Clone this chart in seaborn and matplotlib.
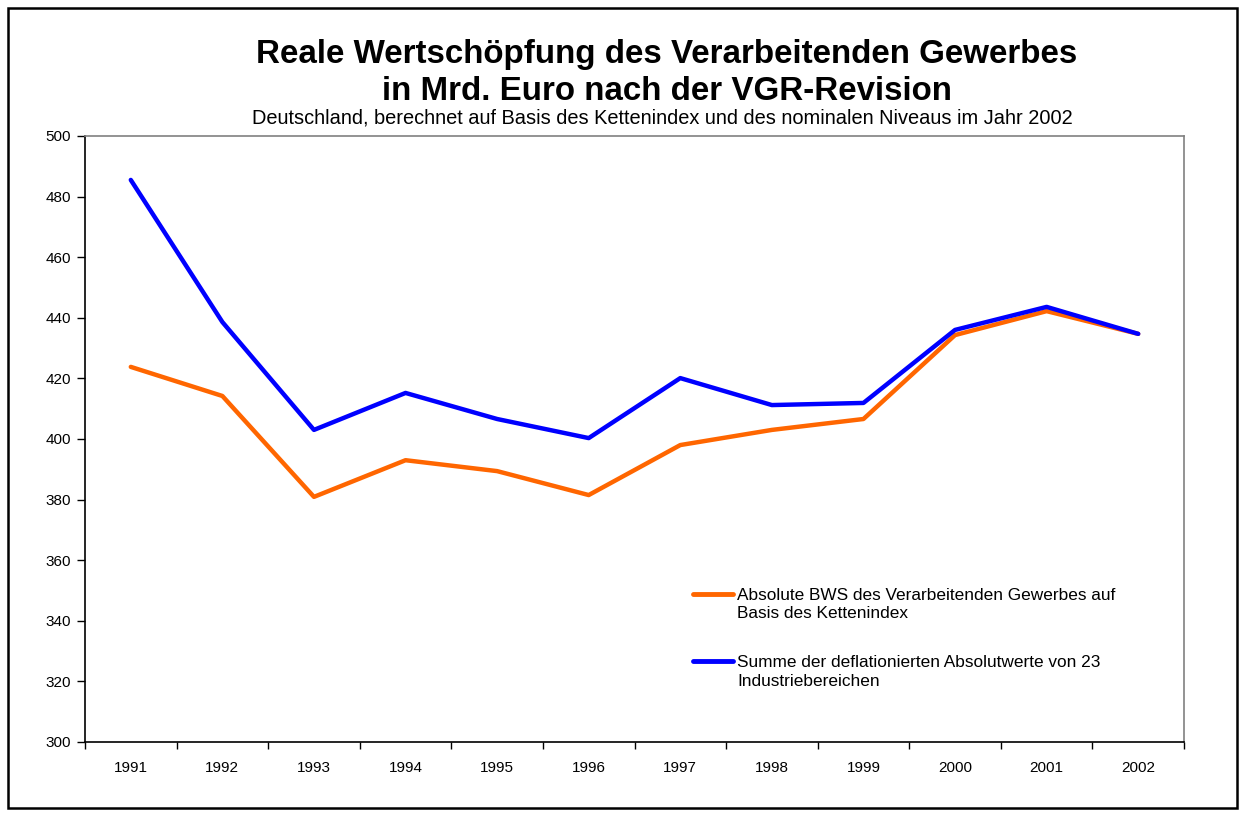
import pandas as pd
import numpy as np
import seaborn as sns
import matplotlib.pyplot as plt
from matplotlib.patches import Rectangle

# Daten
jahre = [1991, 1992, 1993, 1994, 1995, 1996, 1997, 1998, 1999, 2000, 2001, 2002]
bws_kettenindex = [423.8, 414.2, 380.9, 393.0, 389.4, 381.5, 398.0, 403.0, 406.6, 434.3, 442.2, 434.7]
summe_deflationiert = [485.5, 438.6, 403.0, 415.2, 406.6, 400.3, 420.1, 411.2, 411.9, 436.0, 443.6, 434.7]

lab_orange = ["Absolute BWS des Verarbeitenden Gewerbes auf", "Basis des Kettenindex"]
lab_blau = ["Summe der deflationierten Absolutwerte von 23", "Industriebereichen"]

df = pd.DataFrame({"Jahr": jahre * 2,
                   "Wert": bws_kettenindex + summe_deflationiert,
                   "Reihe": [lab_orange[0]] * 12 + [lab_blau[0]] * 12})

sns.set_style("white")
plt.rcParams['font.family'] = ['Liberation Sans', 'DejaVu Sans']
plt.rcParams['text.color'] = 'black'
plt.rcParams['xtick.color'] = 'black'
plt.rcParams['ytick.color'] = 'black'

fig = plt.figure(figsize=(12.45, 8.16), dpi=100)
ax = fig.add_axes([85/1245, 74/816, 1099/1245, 606/816])

sns.lineplot(data=df, x="Jahr", y="Wert", hue="Reihe",
             palette={lab_orange[0]: "#FF6600", lab_blau[0]: "#0000FF"},
             linewidth=3.2, ax=ax, legend=True)

ax.set_xlim(1990.5, 2002.5)
ax.set_ylim(300, 500)
ax.set_yticks(np.arange(300, 501, 20))
ax.set_xticks(jahre)
ax.set_xticklabels([str(j) for j in jahre])
ax.set_xticks(np.arange(1990.5, 2003, 1), minor=True)
ax.tick_params(axis="x", which="major", bottom=True, length=0, pad=14, labelsize=11)
ax.tick_params(axis="x", which="minor", bottom=True, length=5, width=1, direction="out")
ax.tick_params(axis="y", which="major", left=True, length=6, width=1, direction="out",
               pad=4, labelsize=11)
ax.set_xlabel("")
ax.set_ylabel("")

for s in ["left", "bottom"]:
    ax.spines[s].set_color("black")
    ax.spines[s].set_linewidth(1.2)
for s in ["top", "right"]:
    ax.spines[s].set_color("#808080")
    ax.spines[s].set_linewidth(1.2)

leg = ax.legend(loc="upper left", bbox_to_anchor=(693/1245, 1 - 588/816),
                bbox_transform=fig.transFigure, frameon=False, fontsize=12.4,
                handlelength=2.35, handletextpad=0.22, labelspacing=3.0,
                borderpad=0, borderaxespad=0)
for l in leg.get_lines():
    l.set_linewidth(3.5)

# zweite Zeilen der Legendentexte
fig.text(737/1245, 1 - 614/816, lab_orange[1], ha="left", va="center", fontsize=12.4)
fig.text(737/1245, 1 - 681/816, lab_blau[1], ha="left", va="center", fontsize=12.4)

fig.text(667/1245, 1 - 63/816, "Reale Wertschöpfung des Verarbeitenden Gewerbes",
         ha="center", va="baseline", fontsize=23.9, fontweight="bold")
fig.text(667/1245, 1 - 100/816, "in Mrd. Euro nach der VGR-Revision",
         ha="center", va="baseline", fontsize=23.9, fontweight="bold")
fig.text(662/1245, 1 - 124/816,
         "Deutschland, berechnet auf Basis des Kettenindex und des nominalen Niveaus im Jahr 2002",
         ha="center", va="baseline", fontsize=14.4)

fig.patches.append(Rectangle((8/1245, 8/816), 1229/1245, 800/816, transform=fig.transFigure,
                             fill=False, edgecolor="black", linewidth=1.8))

fig.savefig("out.png", dpi=100)
